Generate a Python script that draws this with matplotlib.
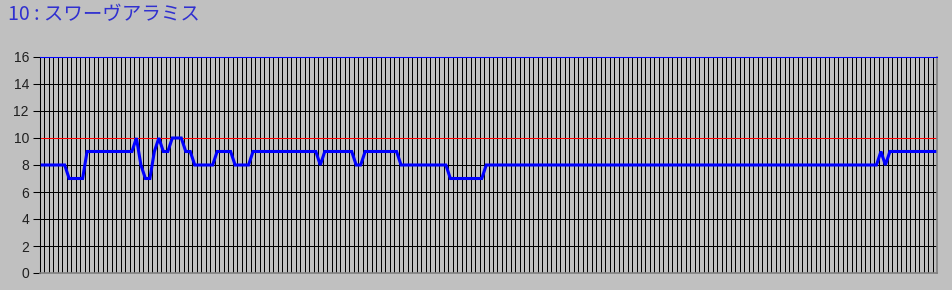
import numpy as np
import matplotlib
matplotlib.use("Agg")
import matplotlib.pyplot as plt

title = "10 : スワーヴアラミス"
y_ticks = [0, 2, 4, 6, 8, 10, 12, 14, 16]
ref_level = 10

# one value per race, 200 entries
values = [
    8, 8, 8, 8, 8, 8, 7, 7, 7, 7, 9, 9, 9, 9, 9, 9, 9, 9, 9, 9,
    9, 10, 8, 7, 7, 9, 10, 9, 9, 10, 10, 10, 9, 9, 8, 8, 8, 8, 8, 9,
    9, 9, 9, 8, 8, 8, 8, 9, 9, 9, 9, 9, 9, 9, 9, 9, 9, 9, 9, 9,
    9, 9, 8, 9, 9, 9, 9, 9, 9, 9, 8, 8, 9, 9, 9, 9, 9, 9, 9, 9,
    8, 8, 8, 8, 8, 8, 8, 8, 8, 8, 8, 7, 7, 7, 7, 7, 7, 7, 7, 8,
    8, 8, 8, 8, 8, 8, 8, 8, 8, 8, 8, 8, 8, 8, 8, 8, 8, 8, 8, 8,
    8, 8, 8, 8, 8, 8, 8, 8, 8, 8, 8, 8, 8, 8, 8, 8, 8, 8, 8, 8,
    8, 8, 8, 8, 8, 8, 8, 8, 8, 8, 8, 8, 8, 8, 8, 8, 8, 8, 8, 8,
    8, 8, 8, 8, 8, 8, 8, 8, 8, 8, 8, 8, 8, 8, 8, 8, 8, 8, 8, 8,
    8, 8, 8, 8, 8, 8, 8, 9, 8, 9, 9, 9, 9, 9, 9, 9, 9, 9, 9, 9,
]

bg = "#C0C0C0"
fig = plt.figure(figsize=(9.52, 2.9), dpi=100, facecolor=bg)
ax = fig.add_axes([40 / 952, 1 - 273 / 290, 897 / 952, 216 / 290])
ax.set_facecolor(bg)

x = np.arange(len(values))
ax.set_xlim(-0.5, len(values) - 0.5)
ax.set_ylim(0, 16)

# category boundaries as vertical grid
ax.set_xticks(np.arange(-0.5, len(values), 1))
ax.tick_params(axis="x", length=0, labelbottom=False)
ax.grid(axis="x", color="black", linewidth=0.6, antialiased=False, zorder=1)

ax.set_yticks(y_ticks)
ax.tick_params(axis="y", length=5, width=0.75, color="black",
               labelsize=10, labelcolor="#202020", pad=3)
for lbl in ax.get_yticklabels():
    lbl.set_family(["Liberation Sans", "DejaVu Sans"])
ax.grid(axis="y", color="black", linewidth=0.6, antialiased=False, zorder=1)
ax.set_axisbelow(True)

ax.axhline(ref_level, color="#FF0000", linewidth=0.6, antialiased=False, zorder=2)
ax.plot(x, values, color="#0000FF", linewidth=2.2, zorder=3,
        solid_joinstyle="miter", clip_on=False)

ax.spines["top"].set_color("#0000FF")
ax.spines["top"].set_linewidth(0.75)
ax.spines["top"].set_zorder(4)
ax.spines["left"].set_color("black")
ax.spines["left"].set_linewidth(0.75)
ax.spines["right"].set_color("#808080")
ax.spines["bottom"].set_color("#808080")
ax.spines["right"].set_linewidth(1.2)
ax.spines["bottom"].set_linewidth(1.2)

fig.text(8 / 952, 1 - 4 / 290, title, ha="left", va="top", fontsize=14,
         color="#3030D0", family=["Noto Sans CJK JP", "DejaVu Sans"])

fig.savefig("out.png", dpi=100, facecolor=bg)
